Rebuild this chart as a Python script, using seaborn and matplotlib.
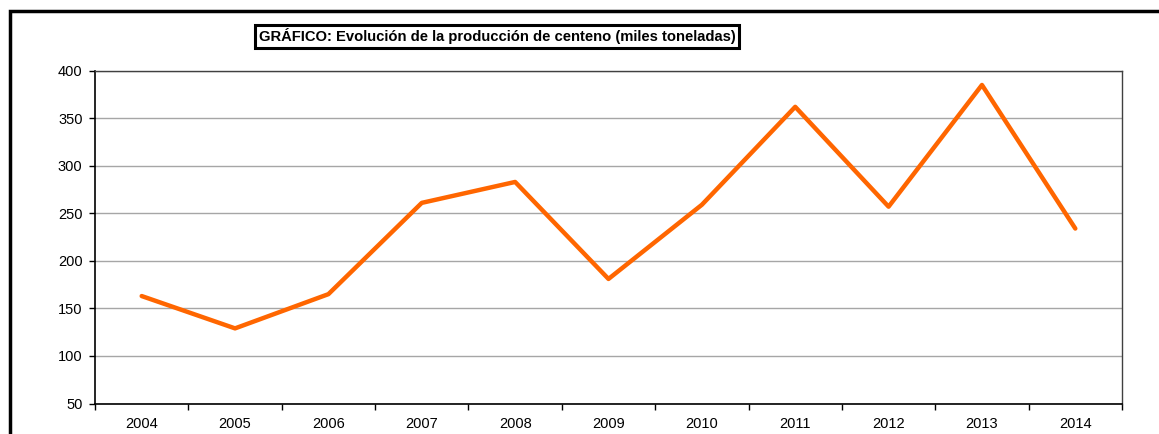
import pandas as pd
import matplotlib.pyplot as plt
import seaborn as sns
from matplotlib.patches import Rectangle
from matplotlib.ticker import FixedLocator, NullFormatter

#_____1. DATA_____
years = ['2004', '2005', '2006', '2007', '2008', '2009', '2010', '2011', '2012', '2013', '2014']
produccion = [163, 129, 165, 261, 283, 181, 259, 362, 257, 385, 234]
titulo = 'GRÁFICO: Evolución de la producción de centeno (miles toneladas)'

df = pd.DataFrame({'year': years, 'prod': produccion})

#_____2. STYLE_____
sns.set_style('white')
plt.rcParams['font.family'] = ['Liberation Sans', 'DejaVu Sans']
plt.rcParams['text.color'] = 'black'
plt.rcParams['xtick.color'] = 'black'
plt.rcParams['ytick.color'] = 'black'

fig = plt.figure(figsize=(11.59, 4.34), dpi=100)
ax = fig.add_axes([95 / 1159, 1 - 403.5 / 434, (1122 - 95) / 1159, (403.5 - 70.7) / 434])

#_____3. PLOT_____
sns.lineplot(data=df, x='year', y='prod', ax=ax, color='#FF6600', linewidth=3.2,
             sort=False, zorder=3)

ax.set_ylim(50, 400)
ax.set_yticks(range(50, 401, 50))
ax.yaxis.grid(True, color='#a6a6a6', linewidth=1)
ax.set_axisbelow(True)

n = len(years)
ax.set_xlim(-0.5, n - 0.5)
ax.xaxis.set_major_locator(FixedLocator([i - 0.5 for i in range(n + 1)]))
ax.xaxis.set_major_formatter(NullFormatter())
ax.xaxis.set_minor_locator(FixedLocator(list(range(n))))
ax.set_xticklabels(years, minor=True)
ax.tick_params(axis='x', which='major', direction='out', length=4, width=1, color='black', bottom=True)
ax.tick_params(axis='x', which='minor', length=0, pad=10, labelsize=10.5)
ax.tick_params(axis='y', direction='out', length=4, width=1, color='black', left=True, labelsize=10.5, pad=5)

ax.set_xlabel('')
ax.set_ylabel('')

for side in ['left', 'bottom']:
    ax.spines[side].set_color('black')
    ax.spines[side].set_linewidth(1.2)
for side in ['top', 'right']:
    ax.spines[side].set_visible(True)
    ax.spines[side].set_color('#404040')
    ax.spines[side].set_linewidth(1)

#_____4. FRAME & TITLE_____
frame = Rectangle((9.5 / 1159, -0.1), 1.2, 1 - 11 / 434 + 0.1, transform=fig.transFigure,
                  fill=False, edgecolor='black', linewidth=2.5, clip_on=False)
fig.patches.append(frame)

fig.text(497 / 1159, 1 - 36.5 / 434, titulo, ha='center', va='center', fontsize=10.6,
         fontweight='bold', color='black',
         bbox=dict(boxstyle='square,pad=0.22', facecolor='white', edgecolor='black', linewidth=2.2))

fig.savefig('out.png', dpi=100)
plt.close()
